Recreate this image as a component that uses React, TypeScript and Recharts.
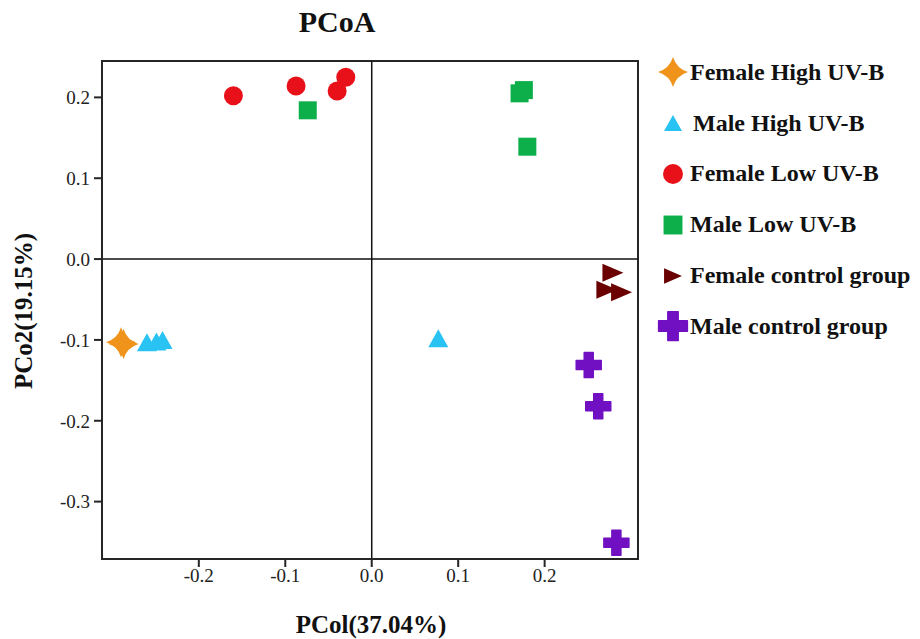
import React from "react";
import {
  ScatterChart,
  Scatter,
  XAxis,
  YAxis,
  ReferenceLine,
  ReferenceArea,
} from "recharts";

// PCoA coordinates
const femaleHighUVB = [
  { x: -0.29, y: -0.103 },
  { x: -0.287, y: -0.105 },
];
const maleHighUVB = [
  { x: -0.26, y: -0.103 },
  { x: -0.249, y: -0.102 },
  { x: -0.242, y: -0.1 },
  { x: 0.077, y: -0.098 },
];
const femaleLowUVB = [
  { x: -0.16, y: 0.202 },
  { x: -0.0875, y: 0.214 },
  { x: -0.04, y: 0.208 },
  { x: -0.03, y: 0.225 },
];
const maleLowUVB = [
  { x: -0.074, y: 0.184 },
  { x: 0.171, y: 0.205 },
  { x: 0.176, y: 0.209 },
  { x: 0.18, y: 0.139 },
];
const femaleControl = [
  { x: 0.279, y: -0.017 },
  { x: 0.272, y: -0.038 },
  { x: 0.289, y: -0.041 },
];
const maleControl = [
  { x: 0.251, y: -0.131 },
  { x: 0.262, y: -0.182 },
  { x: 0.283, y: -0.351 },
];

const xTicks = [-0.2, -0.1, 0, 0.1, 0.2];
const yTicks = [-0.3, -0.2, -0.1, 0, 0.1, 0.2];
const X_DOMAIN: [number, number] = [-0.312, 0.308];
const Y_DOMAIN: [number, number] = [-0.371, 0.245];

const FONT = "Liberation Serif";
const AXIS_COLOR = "#262626";

type ShapeProps = { cx: number; cy: number; fill: string; scale?: number };

function Star4({ cx, cy, fill, scale = 1 }: ShapeProps) {
  const r = 15 * scale;
  const k = 3.5 * scale;
  const d = `M${cx},${cy - r} Q${cx + k},${cy - k} ${cx + r},${cy} Q${cx + k},${cy + k} ${cx},${cy + r} Q${cx - k},${cy + k} ${cx - r},${cy} Q${cx - k},${cy - k} ${cx},${cy - r} Z`;
  return <path d={d} fill={fill} />;
}

function TriUp({ cx, cy, fill, scale = 1 }: ShapeProps) {
  const w = 10 * scale;
  const h = 9 * scale;
  return (
    <polygon
      points={`${cx},${cy - h} ${cx + w},${cy + h} ${cx - w},${cy + h}`}
      fill={fill}
    />
  );
}

function TriRight({ cx, cy, fill, scale = 1 }: ShapeProps) {
  const w = 10.5 * scale;
  const h = 9 * scale;
  return (
    <polygon
      points={`${cx - w},${cy - h} ${cx + w},${cy} ${cx - w},${cy + h}`}
      fill={fill}
    />
  );
}

function Dot({ cx, cy, fill, scale = 1 }: ShapeProps) {
  return <circle cx={cx} cy={cy} r={9.5 * scale} fill={fill} />;
}

function Box({ cx, cy, fill, scale = 1 }: ShapeProps) {
  const s = 9 * scale;
  return <rect x={cx - s} y={cy - s} width={2 * s} height={2 * s} fill={fill} />;
}

function Plus({ cx, cy, fill, scale = 1 }: ShapeProps) {
  const r = 12.5 * scale;
  const t = 4.5 * scale;
  const d = `M${cx - t},${cy - r} H${cx + t} V${cy - t} H${cx + r} V${cy + t} H${cx + t} V${cy + r} H${cx - t} V${cy + t} H${cx - r} V${cy - t} H${cx - t} Z`;
  return <path d={d} fill={fill} strokeLinejoin="round" stroke={fill} strokeWidth={1.5} />;
}

const series = [
  { name: "Female High UV-B", data: femaleHighUVB, color: "#EF931B", Shape: Star4, legendScale: 1 },
  { name: "Male High UV-B", data: maleHighUVB, color: "#29C3F3", Shape: TriUp, legendScale: 0.9 },
  { name: "Female Low UV-B", data: femaleLowUVB, color: "#E8111A", Shape: Dot, legendScale: 1.05 },
  { name: "Male Low UV-B", data: maleLowUVB, color: "#0DAF4B", Shape: Box, legendScale: 1.05 },
  { name: "Female control group", data: femaleControl, color: "#6A0000", Shape: TriRight, legendScale: 0.85 },
  { name: "Male control group", data: maleControl, color: "#7010C2", Shape: Plus, legendScale: 1.15 },
];

const fmt = (v: number) => v.toFixed(1);
const tickStyle = {
  fill: "#222",
  fontSize: 19,
  fontFamily: FONT,
  style: { fontFamily: FONT },
};

export default function App() {
  return (
    <div
      style={{
        position: "absolute",
        left: 0,
        top: 0,
        width: 920,
        height: 639,
        background: "#fff",
        fontFamily: FONT,
      }}
    >
      <ScatterChart
        width={920}
        height={639}
        margin={{ top: 61, right: 282, bottom: 0, left: 0 }}
      >
        <XAxis
          type="number"
          dataKey="x"
          domain={X_DOMAIN}
          ticks={xTicks}
          allowDataOverflow
          tickFormatter={fmt}
          tick={tickStyle}
          tickSize={8}
          tickMargin={2}
          height={80}
          axisLine={{ stroke: AXIS_COLOR, strokeWidth: 2 }}
          tickLine={{ stroke: AXIS_COLOR, strokeWidth: 2 }}
        />
        <YAxis
          type="number"
          dataKey="y"
          domain={Y_DOMAIN}
          ticks={yTicks}
          allowDataOverflow
          tickFormatter={fmt}
          tick={tickStyle}
          tickSize={8}
          tickMargin={4}
          width={102}
          axisLine={{ stroke: AXIS_COLOR, strokeWidth: 2 }}
          tickLine={{ stroke: AXIS_COLOR, strokeWidth: 2 }}
        />
        <ReferenceArea
          x1={X_DOMAIN[0]}
          x2={X_DOMAIN[1]}
          y1={Y_DOMAIN[0]}
          y2={Y_DOMAIN[1]}
          fill="none"
          fillOpacity={0}
          stroke={AXIS_COLOR}
          strokeWidth={2}
        />
        <ReferenceLine x={0} stroke="#111" strokeWidth={1.5} />
        <ReferenceLine y={0} stroke="#111" strokeWidth={1.5} />
        {series.map((s) => (
          <Scatter
            key={s.name}
            name={s.name}
            data={s.data}
            fill={s.color}
            isAnimationActive={false}
            shape={(p: any) => <s.Shape cx={p.cx} cy={p.cy} fill={s.color} />}
          />
        ))}
      </ScatterChart>

      <svg
        width={920}
        height={639}
        style={{ position: "absolute", left: 0, top: 0, pointerEvents: "none" }}
      >
        <text
          x={337}
          y={32}
          textAnchor="middle"
          fontFamily={FONT}
          fontWeight="bold"
          fontSize={30}
          fill="#111"
        >
          PCoA
        </text>
        <text
          x={371}
          y={633}
          textAnchor="middle"
          fontFamily={FONT}
          fontWeight="bold"
          fontSize={25}
          fill="#111"
        >
          PCol(37.04%)
        </text>
        <text
          transform="translate(32,311) rotate(-90)"
          textAnchor="middle"
          fontFamily={FONT}
          fontWeight="bold"
          fontSize={25}
          fill="#111"
        >
          PCo2(19.15%)
        </text>
      </svg>

      <div style={{ position: "absolute", left: 656, top: 47 }}>
        {series.map((s) => (
          <div
            key={s.name}
            style={{ display: "flex", alignItems: "center", height: 50.8 }}
          >
            <svg width={34} height={36}>
              <s.Shape cx={17} cy={18} fill={s.color} scale={s.legendScale} />
            </svg>
            <span
              style={{
                fontFamily: FONT,
                fontWeight: "bold",
                fontSize: 24,
                color: "#111",
                whiteSpace: "nowrap",
                marginLeft: s.name === "Male High UV-B" ? 3 : 0,
              }}
            >
              {s.name}
            </span>
          </div>
        ))}
      </div>
    </div>
  );
}
